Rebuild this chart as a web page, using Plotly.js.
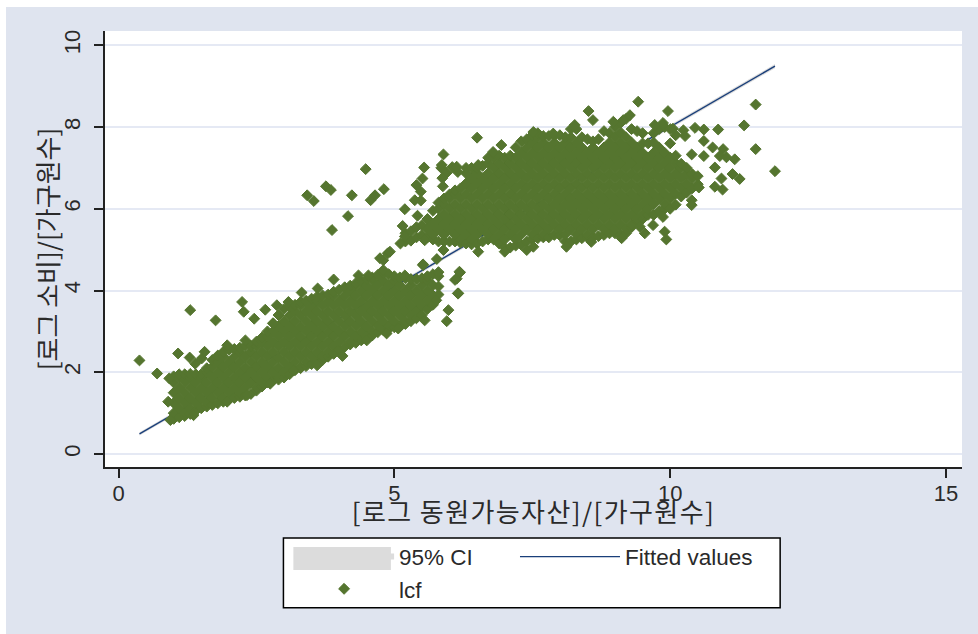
<!DOCTYPE html>
<html><head><meta charset="utf-8">
<script src="https://cdn.plot.ly/plotly-3.0.1.min.js"></script>
<style>html,body{margin:0;padding:0;background:#fff}#c{position:absolute;left:6px;top:7px;width:972px;height:627px}
.xtitle{letter-spacing:1.4px}</style>
</head><body><div id="c"></div>
<script>
const xTitle = "[로그 동원가능자산]/[가구원수]";
const yTitle = "[로그 소비]/[가구원수]";
const seriesNames = ["95% CI","Fitted values","lcf"];
const xTicks = [0,5,10,15];
const yTicks = [0,2,4,6,8,10];
const fitX = [0.38,11.9];
const fitY = [0.49,9.49];
const ciX = [0.38,11.9,11.9,0.38];
const ciY = [0.45,9.44,9.54,0.53];
// scattered households read one by one
const oddX = [0.38,0.70,1.30,1.76,1.08,1.29,1.39,1.56,1.51,0.92,0.90,2.24,2.27,2.46,2.66,2.87,3.08,3.32,3.61,3.90,4.06,5.95,5.98,6.16,6.13,6.19,2.30,5.52,4.80,
 3.42,3.54,3.76,3.85,3.87,4.16,4.23,4.48,4.57,4.65,4.81,4.74,4.88,
 9.42,8.52,9.96,11.55,11.34,6.50,10.87,10.45,10.61,10.24,10.27,10.61,10.77,10.96,11.55,10.39,10.61,10.90,11.02,11.17,10.81,11.90,11.13,11.26,10.93,10.81,10.95,10.52,10.39,10.39,9.90,9.93,9.69,9.54,9.87,
 5.89,5.54,5.51,5.40,5.48,5.37,5.48,5.19,5.42,5.15,5.11,4.92,5.52,5.77,6.18,6.10,6.15,5.85,5.95,6.05,6.15,5.87,5.88,
 7.52,7.88,8.27,8.60,8.97,9.27,9.15,9.72,9.87,10.05,6.94,6.79,6.52,6.13,5.86,
 5.19,5.55,5.89,6.52,7.00,7.40,7.52,8.12,8.57,9.12,9.45,
 0.94,1.36,1.97,2.33,2.75,3.17,3.60,4.50,4.86,5.07,5.55,5.76,4.35,4.53,4.80,5.19,5.80,1.97,2.81];
const oddY = [2.29,1.97,3.52,3.27,2.46,2.36,2.21,2.50,2.34,1.85,1.28,3.72,3.48,3.31,3.53,3.64,3.72,3.95,4.05,4.27,2.40,3.25,3.52,3.93,4.29,4.44,2.78,4.62,4.74,
 6.33,6.19,6.55,6.46,5.48,5.82,6.33,6.97,6.21,6.33,6.48,4.79,4.91,
 8.62,8.39,8.39,8.55,8.04,7.74,7.94,7.98,7.94,7.92,7.78,7.66,7.50,7.46,7.46,7.33,7.29,7.29,7.26,7.21,7.01,6.92,6.85,6.73,6.74,6.54,6.47,6.52,6.21,6.09,5.44,5.25,5.60,5.40,5.80,
 7.33,7.01,6.74,6.58,6.42,6.21,6.20,5.99,5.83,5.58,5.15,4.95,4.64,4.77,4.46,4.26,3.93,7.00,6.88,7.02,6.90,6.75,6.55,
 7.88,7.84,8.05,8.17,8.13,8.29,8.17,8.05,8.10,7.96,7.56,7.39,7.07,7.03,7.07,
 5.32,5.23,4.99,4.95,4.95,4.99,5.07,5.07,5.19,5.28,5.56,
 0.83,0.95,1.28,1.44,1.72,2.05,2.17,2.78,2.95,3.07,3.27,3.76,4.37,4.37,4.50,4.37,4.45,2.66,3.19];
// dense lower cloud, column by column
const lowX = [1.0,1.1,1.2,1.3,1.4,1.5,1.6,1.7,1.8,1.9,2.0,2.1,2.2,2.3,2.4,2.5,2.6,2.7,2.8,2.9,3.0,3.1,3.2,3.3,3.4,3.5,3.6,3.7,3.8,3.9,4.0,4.1,4.2,4.3,4.4,4.5,4.6,4.7,4.8,4.9,5.0,5.1,5.2,5.3,5.4,5.5,5.6,5.7,5.8];
const lowY = [
[.86,1.0,1.25,1.5,1.75,1.9],[.9,1.12,1.37,1.62,1.88,1.95],[.93,1.0,1.25,1.5,1.76,1.95],[.98,1.12,1.37,1.63,1.88,1.96],[1.06,1.25,1.5,1.75,1.95],
[1.12,1.37,1.62,1.87,1.95],[1.16,1.25,1.5,1.75,2.0,2.1],[1.2,1.37,1.62,1.88,2.13,2.3],[1.24,1.5,1.75,2.0,2.25,2.41],[1.28,1.37,1.62,1.88,2.13,2.38,2.5],
[1.33,1.5,1.75,2.0,2.25,2.55],[1.37,1.62,1.87,2.13,2.38,2.57],[1.4,1.5,1.75,2.0,2.25,2.5,2.6],[1.43,1.62,1.88,2.12,2.38,2.65],[1.47,1.75,2.0,2.25,2.5,2.65],
[1.55,1.62,1.88,2.13,2.38,2.63,2.75],[1.65,1.75,2.0,2.25,2.5,2.75,2.85],[1.75,1.88,2.13,2.38,2.63,2.88,3.0],[1.8,2.0,2.25,2.5,2.75,3.0,3.2],[1.82,1.88,2.12,2.37,2.63,2.88,3.13,3.4],
[1.87,2.0,2.25,2.5,2.75,3.0,3.25,3.55],[1.95,2.13,2.38,2.63,2.88,3.13,3.38,3.6],[2.05,2.25,2.5,2.75,3.0,3.25,3.5,3.65],[2.1,2.12,2.38,2.63,2.87,3.12,3.38,3.63,3.72],[2.15,2.25,2.5,2.75,3.0,3.25,3.5,3.75],
[2.2,2.38,2.63,2.88,3.13,3.38,3.62,3.8],[2.26,2.5,2.75,3.0,3.25,3.5,3.75,3.85],[2.3,2.38,2.63,2.88,3.13,3.38,3.63,3.88],[2.38,2.5,2.75,3.0,3.25,3.5,3.75,3.9],[2.45,2.63,2.88,3.12,3.38,3.63,3.88,3.97],
[2.55,2.75,3.0,3.25,3.5,3.75,4.02],[2.62,2.88,3.13,3.38,3.63,3.88,4.08],[2.68,2.75,3.0,3.25,3.5,3.75,4.0,4.12],[2.72,2.88,3.13,3.38,3.63,3.88,4.13,4.18],[2.78,3.0,3.25,3.5,3.75,4.0,4.22],
[2.83,2.88,3.12,3.38,3.62,3.88,4.12,4.28],[2.9,3.0,3.25,3.5,3.75,4.0,4.25,4.32],[2.98,3.13,3.38,3.63,3.88,4.13,4.38],[3.03,3.25,3.5,3.75,4.0,4.25,4.42],[3.06,3.13,3.38,3.63,3.88,4.13,4.4],
[3.1,3.25,3.5,3.75,4.0,4.25,4.35],[3.12,3.38,3.63,3.88,4.13,4.32],[3.18,3.25,3.5,3.75,4.0,4.3],[3.25,3.38,3.63,3.88,4.13,4.28],[3.32,3.5,3.75,4.0,4.28],
[3.4,3.63,3.88,4.13,4.3],[3.55,3.75,4.0,4.25,4.35],[3.65,3.88,4.13,4.4],[3.9,4.1,4.35]
];
// dense upper cloud, column by column
const highX = [5.2,5.3,5.4,5.5,5.6,5.7,5.8,5.9,6.0,6.1,6.2,6.3,6.4,6.5,6.6,6.7,6.8,6.9,7.0,7.1,7.2,7.3,7.4,7.5,7.6,7.7,7.8,7.9,8.0,8.1,8.2,8.3,8.4,8.5,8.6,8.7,8.8,8.9,9.0,9.1,9.2,9.3,9.4,9.5,9.6,9.7,9.8,9.9,10.0,10.1,10.2,10.3,10.4,10.5];
const highY = [
[5.2,5.4],[5.22,5.45],[5.3,5.55],[5.36,5.6],[5.3,5.5,5.75],[5.25,5.37,5.62,5.95],[5.2,5.5,5.75,6.0,6.15],
[5.2,5.37,5.62,5.87,6.12,6.25],[5.2,5.5,5.75,6.0,6.25,6.35],[5.2,5.37,5.62,5.87,6.12,6.37,6.45],[5.17,5.25,5.5,5.75,6.0,6.25,6.5],
[5.15,5.37,5.62,5.87,6.12,6.37,6.62,6.87,7.0],[5.13,5.25,5.5,5.75,6.0,6.25,6.5,6.75,7.0],[5.15,5.37,5.62,5.87,6.12,6.37,6.62,6.87,7.0],[5.2,5.5,5.75,6.0,6.25,6.5,6.75,7.05],
[5.25,5.37,5.62,5.87,6.12,6.37,6.62,6.87,7.12,7.25],[5.25,5.5,5.75,6.0,6.25,6.5,6.75,7.0,7.25,7.35],[5.15,5.37,5.62,5.87,6.12,6.37,6.62,6.87,7.12,7.3],[5.05,5.25,5.5,5.75,6.0,6.25,6.5,6.75,7.0,7.25],
[5.05,5.37,5.62,5.87,6.12,6.37,6.62,6.87,7.12,7.3],[5.1,5.25,5.5,5.75,6.0,6.25,6.5,6.75,7.0,7.25,7.5],[5.12,5.37,5.62,5.87,6.12,6.37,6.62,6.87,7.12,7.37,7.65],[5.2,5.5,5.75,6.0,6.25,6.5,6.75,7.0,7.25,7.5,7.7],
[5.25,5.37,5.62,5.87,6.12,6.37,6.62,6.87,7.12,7.37,7.62,7.8],[5.28,5.5,5.75,6.0,6.25,6.5,6.75,7.0,7.25,7.5,7.75,7.85],[5.3,5.37,5.62,5.87,6.12,6.37,6.62,6.87,7.12,7.37,7.62,7.78],[5.3,5.5,5.75,6.0,6.25,6.5,6.75,7.0,7.25,7.5,7.78],
[5.36,5.62,5.87,6.12,6.37,6.62,6.87,7.12,7.37,7.62,7.8],[5.35,5.5,5.75,6.0,6.25,6.5,6.75,7.0,7.25,7.5,7.8],[5.2,5.37,5.62,5.87,6.12,6.37,6.62,6.87,7.12,7.37,7.62,7.75],[5.2,5.5,5.75,6.0,6.25,6.5,6.75,7.0,7.25,7.5,7.75,7.95],
[5.25,5.37,5.62,5.87,6.12,6.37,6.62,6.87,7.12,7.37,7.62,7.95],[5.28,5.5,5.75,6.0,6.25,6.5,6.75,7.0,7.25,7.5,7.75],[5.3,5.37,5.62,5.87,6.12,6.37,6.62,6.87,7.12,7.37,7.7],[5.3,5.5,5.75,6.0,6.25,6.5,6.75,7.0,7.25,7.5,7.65],
[5.33,5.62,5.87,6.12,6.37,6.62,6.87,7.12,7.37,7.7],[5.36,5.5,5.75,6.0,6.25,6.5,6.75,7.0,7.25,7.5,7.9],[5.4,5.62,5.87,6.12,6.37,6.62,6.87,7.12,7.37,7.62,7.85],[5.4,5.5,5.75,6.0,6.25,6.5,6.75,7.0,7.25,7.5,7.75,8.0],
[5.36,5.62,5.87,6.12,6.37,6.62,6.87,7.12,7.37,7.62,7.87,8.1],[5.4,5.5,5.75,6.0,6.25,6.5,6.75,7.0,7.25,7.5,7.75,8.2],[5.55,5.62,5.87,6.12,6.37,6.62,6.87,7.12,7.37,7.62,7.95],[5.7,5.75,6.0,6.25,6.5,6.75,7.0,7.25,7.5,7.9],
[5.75,5.87,6.12,6.37,6.62,6.87,7.12,7.37,7.6,7.85],[5.85,6.0,6.25,6.5,6.75,7.0,7.25,7.6],[5.85,6.12,6.37,6.62,6.87,7.12,7.37,7.62,7.85],[5.95,6.25,6.5,6.75,7.0,7.25,7.5,7.95],
[6.0,6.12,6.37,6.62,6.87,7.12,7.37,8.0],[6.0,6.25,6.5,6.75,7.0,7.25,7.6,7.95],[6.1,6.37,6.62,6.87,7.12,7.3,7.8],[6.3,6.5,6.75,7.0,7.1],[6.4,6.62,6.87,7.0],[6.5,6.75,6.85],[6.6,6.8]
];
const allX = [], allY = [];
lowX.forEach((x,i)=>lowY[i].forEach(y=>{allX.push(x);allY.push(y);}));
highX.forEach((x,i)=>highY[i].forEach(y=>{allX.push(x);allY.push(y);}));
oddX.forEach((x,i)=>{allX.push(x);allY.push(oddY[i]);});

const txt = "#2a2a2a", bg = "#dfe4ef", grid = "#e5e9f4", axisC = "#222222", green = "#55752f", ciGrey = "#dcdcdc";
const tickFont = {family:"Liberation Sans, Arial, sans-serif", size:22, color:txt};
const titleFont = {family:"'Noto Sans CJK KR', sans-serif", size:26, color:txt};
const legendFont = {family:"Liberation Sans, Arial, sans-serif",size:22.5,color:txt};
const data = [
 {x:ciX,y:ciY,type:"scatter",mode:"none",fill:"toself",fillcolor:ciGrey,name:seriesNames[0],hoverinfo:"skip",legend:"legend"},
 {x:fitX,y:fitY,type:"scatter",mode:"lines",line:{color:"#1a3f7a",width:1.4},name:seriesNames[1],legend:"legend2"},
 {x:allX,y:allY,type:"scatter",mode:"markers",marker:{symbol:"diamond",size:8.4,color:green,opacity:1,line:{color:green,width:1}},name:seriesNames[2],legend:"legend"}
];
const layout = {
 width:972,height:627,margin:{l:98.5,r:16,t:23.5,b:167},
 paper_bgcolor:bg,plot_bgcolor:"#ffffff",showlegend:true,
 font:{family:"Liberation Sans, Arial, sans-serif",color:txt},
 xaxis:{range:[-0.245,15.29],tickmode:"array",tickvals:xTicks,ticktext:xTicks.map(String),ticks:"outside",ticklen:9,tickwidth:2,tickcolor:axisC,
  showgrid:false,zeroline:false,showline:true,linecolor:axisC,linewidth:2,tickfont:tickFont,automargin:false,ticklabelstandoff:-3,
  title:{text:xTitle,font:titleFont,standoff:0}},
 yaxis:{range:[-0.318,10.35],tickmode:"array",tickvals:yTicks,ticktext:yTicks.map(String),ticks:"outside",ticklen:9,tickwidth:2,tickcolor:axisC,tickangle:-90,
  showgrid:true,gridcolor:grid,gridwidth:2,zeroline:false,showline:true,linecolor:axisC,linewidth:2,tickfont:tickFont,automargin:false,ticklabelstandoff:5,
  title:{text:yTitle,font:titleFont,standoff:0}},
 shapes:[
  {type:"rect",xref:"paper",yref:"paper",x0:0.2082,x1:0.7878,y0:-0.323,y1:-0.1627,fillcolor:"#ffffff",line:{color:"#000000",width:1.5},layer:"above"},
  {type:"rect",xref:"paper",yref:"paper",x0:0.2198,x1:0.3336,y0:-0.236,y1:-0.1833,fillcolor:ciGrey,line:{width:0},layer:"above"}
 ],
 legend:{orientation:"v",x:0.2148,xanchor:"left",y:-0.157,yanchor:"top",bgcolor:"rgba(0,0,0,0)",borderwidth:0,
  font:legendFont,itemwidth:100,traceorder:"normal",itemclick:false,itemdoubleclick:false},
 legend2:{orientation:"v",x:0.4784,xanchor:"left",y:-0.157,yanchor:"top",bgcolor:"rgba(0,0,0,0)",borderwidth:0,
  font:legendFont,itemwidth:100,traceorder:"normal",itemclick:false,itemdoubleclick:false}
};
Plotly.newPlot("c",data,layout,{displayModeBar:false}).then(()=>{
 // the reference sets both axis titles closer to the plot than the library's minimum standoff
 const xt = document.querySelector("#c .xtitle");
 const yt = document.querySelector("#c .ytitle");
 if (xt) xt.setAttribute("transform","translate(0,-14) "+(xt.getAttribute("transform")||""));
 if (yt) yt.setAttribute("transform","translate(6,0) "+(yt.getAttribute("transform")||""));
});
</script></body></html>
